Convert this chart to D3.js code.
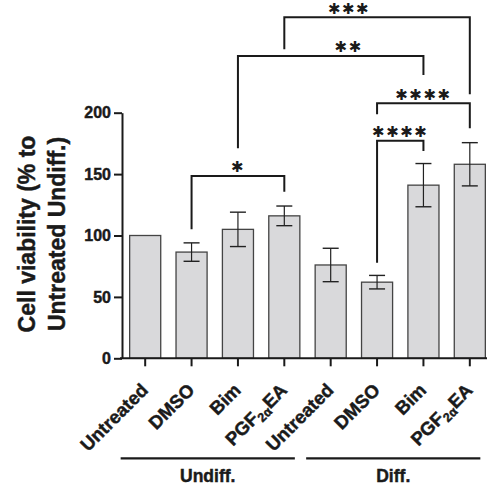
<!DOCTYPE html>
<html>
<head>
<meta charset="utf-8">
<script src="https://cdn.jsdelivr.net/npm/d3@7"></script>
<style>
  html, body { margin: 0; padding: 0; background: #fff; }
  svg { display: block; }
  text { font-family: "Liberation Sans", Arial, sans-serif; font-weight: bold; fill: #1a1a1a; }
  .heavy { stroke: #1a1a1a; stroke-width: 0.45px; }
</style>
</head>
<body>
<div id="chart"></div>
<script>
// Data
const categories = ['Untreated', 'DMSO', 'Bim', 'PGF2αEA', 'Untreated', 'DMSO', 'Bim', 'PGF2αEA'];
const viability = [100, 86.5, 105, 116, 76, 62, 141, 158];
const errors = [0, 7.5, 14, 8, 13.6, 5.5, 17.6, 17.6];
const yTicks = [0, 50, 100, 150, 200];
const groupLabels = ['Undiff.', 'Diff.'];
const groupStart = [0, 4];
const groupEnd = [3, 7];

// Significance brackets (values in y units)
const bracketFrom = [1, 5, 5, 2, 3];
const bracketTo = [3, 6, 7, 6, 7];
const bracketTop = [148.5, 177.2, 207.6, 246.2, 277.7];
const bracketLeftEnd = [105, 77.8, 198.7, 171, 251.6];
const bracketRightEnd = [135.7, 168.8, 187.3, 230.7, 215];
const bracketLabels = ['*', '****', '****', '**', '***'];

function renderChart(container) {
  container.innerHTML = '';

  const width = 487;
  const height = 487;
  const plot = { left: 122, right: 493, top: 112.7, bottom: 358.3 };

  const svg = d3.select(container)
    .append('svg')
    .attr('width', width)
    .attr('height', height);

  const xScale = d3.scaleBand()
    .domain(d3.range(categories.length))
    .range([plot.left, plot.right])
    .paddingInner(0.33)
    .paddingOuter(0.165);

  const yScale = d3.scaleLinear()
    .domain([0, 200])
    .range([plot.bottom, plot.top]);

  const cx = i => xScale(i) + xScale.bandwidth() / 2;

  // Bars
  svg.selectAll('.bar')
    .data(viability)
    .enter()
    .append('rect')
    .attr('class', 'bar')
    .attr('x', (d, i) => xScale(i))
    .attr('y', d => yScale(d))
    .attr('width', xScale.bandwidth())
    .attr('height', d => yScale(0) - yScale(d))
    .attr('fill', '#d9d9db')
    .attr('stroke', '#444')
    .attr('stroke-width', 1.3);

  // Error bars
  const capHalf = 8;
  const err = svg.append('g').attr('class', 'errors');
  viability.forEach((v, i) => {
    if (!errors[i]) return;
    const x = cx(i);
    const hi = yScale(v + errors[i]);
    const lo = yScale(v - errors[i]);
    err.append('line')
      .attr('x1', x).attr('x2', x).attr('y1', hi).attr('y2', lo)
      .attr('stroke', '#222').attr('stroke-width', 1.2);
    [hi, lo].forEach(y => {
      err.append('line')
        .attr('x1', x - capHalf).attr('x2', x + capHalf).attr('y1', y).attr('y2', y)
        .attr('stroke', '#222').attr('stroke-width', 1.4);
    });
  });

  // Y axis
  const yAxis = svg.append('g')
    .attr('transform', `translate(${plot.left},0)`)
    .call(d3.axisLeft(yScale).tickValues(yTicks).tickSize(8).tickPadding(3).tickSizeOuter(0));
  yAxis.selectAll('line, path').attr('stroke', '#1a1a1a').attr('stroke-width', 2);
  yAxis.selectAll('text')
    .attr('class', 'heavy')
    .style('font-size', '16px')
    .style('font-family', '"Liberation Sans", Arial, sans-serif')
    .style('font-weight', 'bold')
    .attr('fill', '#1a1a1a');

  // X axis
  const xAxis = svg.append('g')
    .attr('transform', `translate(0,${plot.bottom})`)
    .call(d3.axisBottom(xScale).tickSize(8).tickSizeOuter(0).tickFormat(''));
  xAxis.select('.domain').attr('d', `M${plot.left - 2},0H${plot.right}`);
  xAxis.selectAll('line, path').attr('stroke', '#1a1a1a').attr('stroke-width', 2);

  // X labels, rotated
  const labels = svg.append('g').attr('class', 'x-labels');
  categories.forEach((c, i) => {
    const t = labels.append('text')
      .attr('class', 'heavy')
      .attr('transform', `translate(${cx(i) + 4},${plot.bottom + 33}) rotate(-45)`)
      .attr('text-anchor', 'end')
      .style('font-size', '18.5px');
    if (c.startsWith('PGF')) {
      t.append('tspan').text('PGF');
      t.append('tspan').attr('dy', 4).style('font-size', '12.5px').text('2α');
      t.append('tspan').attr('dy', -4).text('EA');
    } else {
      t.text(c);
    }
  });

  // Group lines and labels
  groupLabels.forEach((g, k) => {
    const x1 = xScale(groupStart[k]) - 9;
    const x2 = xScale(groupEnd[k]) + xScale.bandwidth() - 5;
    svg.append('line')
      .attr('x1', x1).attr('x2', x2)
      .attr('y1', 458.3).attr('y2', 458.3)
      .attr('stroke', '#1a1a1a').attr('stroke-width', 2.2);
    svg.append('text')
      .attr('class', 'heavy')
      .attr('x', (x1 + x2) / 2)
      .attr('y', 482)
      .attr('text-anchor', 'middle')
      .style('font-size', '17.5px')
      .text(g);
  });

  // Y axis title
  const title = svg.append('text')
    .attr('class', 'heavy')
    .attr('transform', `translate(35,234) rotate(-90)`)
    .attr('text-anchor', 'middle')
    .style('font-size', '23px');
  title.append('tspan').attr('x', 0).attr('dy', 0).text('Cell viability (% to');
  title.append('tspan').attr('x', 0).attr('dy', 30).text('Untreated Undiff.)');

  // Significance brackets
  const labelShift = [0, 0, 0, 18, -28];
  const br = svg.append('g').attr('class', 'brackets');
  bracketLabels.forEach((lab, k) => {
    const xa = cx(bracketFrom[k]);
    const xb = cx(bracketTo[k]);
    const yt = yScale(bracketTop[k]);
    br.append('path')
      .attr('d', `M${xa},${yScale(bracketLeftEnd[k])}V${yt}H${xb}V${yScale(bracketRightEnd[k])}`)
      .attr('fill', 'none')
      .attr('stroke', '#1a1a1a')
      .attr('stroke-width', 2);
    br.append('text')
      .attr('x', (xa + xb) / 2 + labelShift[k])
      .attr('y', yt - 3.5)
      .attr('text-anchor', 'middle')
      .style('font-family', '"DejaVu Sans", sans-serif')
      .style('font-size', '15px')
      .style('letter-spacing', '1.5px')
      .text(lab.replace(/\*/g, '\u2731'));
  });
}

renderChart(document.getElementById('chart'));
</script>
</body>
</html>
